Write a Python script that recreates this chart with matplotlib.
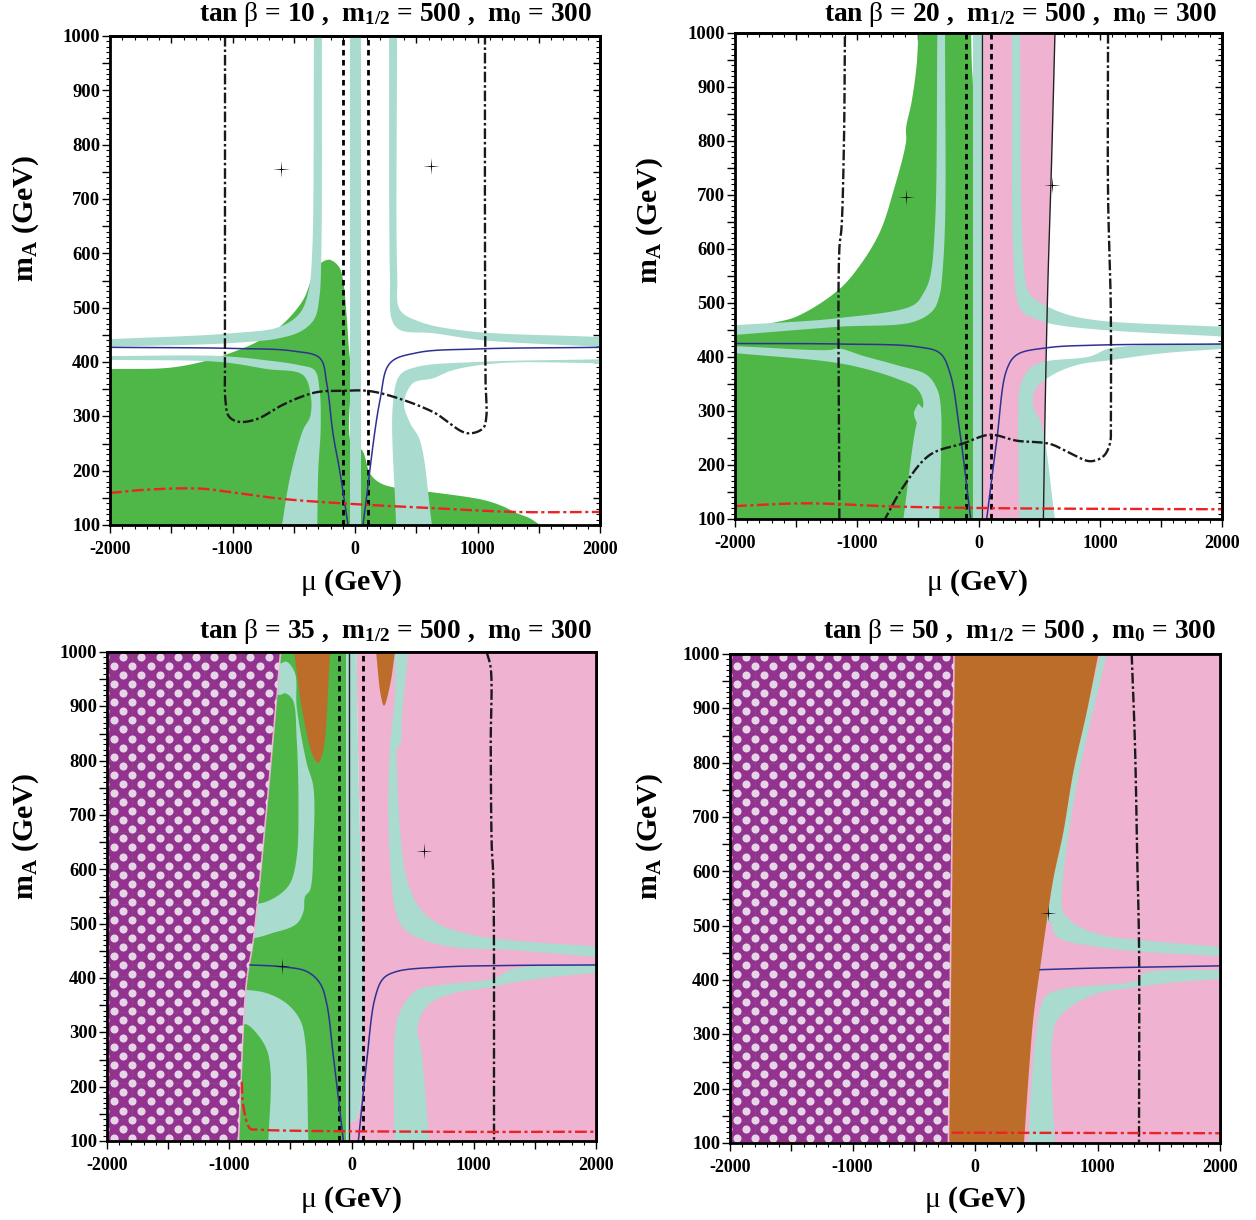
import numpy as np
import matplotlib
matplotlib.use("Agg")
import matplotlib.pyplot as plt
from matplotlib.patches import Polygon
from matplotlib.path import Path
from matplotlib.ticker import MultipleLocator

plt.rcParams.update({
    'font.family': 'Liberation Serif', 'font.weight': 'bold',
    'axes.unicode_minus': False, 'mathtext.fontset': 'custom',
    'mathtext.rm': 'Liberation Serif:bold', 'mathtext.bf': 'Liberation Serif:bold',
    'mathtext.it': 'Liberation Serif:bold', 'mathtext.sf': 'Liberation Serif:regular',
})

GREEN, AQUA, PINK, BROWN = '#4EB748', '#A9DBCF', '#F0B2D1', '#BD6D2A'
MAGENTA, DOT, BLUE, RED = '#93338F', '#E6D5E6', '#2E3192', '#ED2224'

TITLES = ['10', '20', '35', '50']
X_TICK_LABELS = ['-2000', '-1000', '0', '1000', '2000']
Y_TICK_VALUES = [100, 200, 300, 400, 500, 600, 700, 800, 900, 1000]

# ---------------- panel 1, tan beta = 10
P1_GREEN = [(-2000,100),(-2000,387),(-1535,389),(-1290,398),(-1061,413),(-800,437),(-612,465),(-424,514),
            (-326,569),(-260,585),(-204,588),(-130,575),(-98,551),(-70,490),(-49,422),(-30,380),(-30,250),
            (57,238),(122,195),(200,178),(340,168),(640,160),(1050,146),(1200,135),(1320,122),(1430,112),(1510,100)]
P1_AQUA_UL = [(-2000,442),(-1000,453),(-612,465),(-450,490),(-380,530),(-350,600),(-335,1000),(-270,1000),(-275,600),
              (-290,520),(-330,480),(-430,458),(-612,444),(-1000,435),(-2000,428)]
P1_AQUA_LL = [(-2000,411),(-1100,411),(-720,403),(-450,394),(-330,385),(-290,350),(-280,280),(-300,200),(-308,100),
              (-596,100),(-530,188),(-424,275),(-367,299),(-360,336),(-424,376),(-720,387),(-1100,400),(-2000,404)]
P1_AQUA_C = [(-41,100),(49,100),(49,1000),(-41,1000)]
P1_AQUA_UR = [(278,1000),(343,1000),(345,560),(367,496),(530,474),(914,457),(2000,446),(2000,428),(1045,440),
              (637,453),(367,459),(302,477),(285,560)]
P1_AQUA_LR = [(2000,405),(990,400),(506,391),(367,376),(310,325),(335,100),(628,100),(530,256),(449,288),(400,325),
              (473,361),(637,370),(800,385),(1184,398),(2000,398)]
P1_BLUE_L = [(-2000,427),(-1000,425),(-500,420),(-286,407),(-231,361),(-180,269),(-122,196),(-57,100)]
P1_BLUE_R = [(65,100),(204,330),(286,398),(506,417),(1000,424),(2000,427)]
P1_DD = [(-1061,1000),(-1061,600),(-1061,400),(-1058,330),(-1030,300),(-950,290),(-800,295),(-600,320),(-450,335),(-300,345),(-100,347),
         (100,347),(300,337),(637,308),(914,269),(1045,278),(1072,299),(1066,360),(1061,600),(1061,1000)]
P1_RED = [(-2000,159),(-1700,165),(-1265,167),(-1000,160),(-588,148),(-41,139),(637,131),(1320,124),(2000,124)]
P1_STARS = [(-604,755),(620,761)]
P1_DASH = [-100, 106]

# ---------------- panel 2, tan beta = 20
P2_PINK = [(40,100),(40,1000),(628,1000),(601,768),(568,521),(547,300),(533,100)]
P2_GREEN = [(-2000,100),(-2000,445),(-1712,462),(-1493,475),(-1151,524),(-973,570),(-809,632),(-699,707),(-595,799),(-595,824),
            (-549,873),(-508,941),(-494,1000),(-60,1000),(-56,950),(-42,880),(-42,100)]
P2_AQUA_UL = [(-1992,459),(-1151,472),(-535,496),(-453,518),(-400,546),(-357,645),(-338,1000),(-275,1000),(-275,645),
              (-302,540),(-316,518),(-371,487),(-535,465),(-1151,456),(-1992,441)]
P2_AQUA_LL = [(-1992,420),(-1220,413),(-1151,416),(-946,402),(-672,385),(-426,367),(-343,342),(-310,308),(-322,100),
              (-617,100),(-508,277),(-453,314),(-508,342),(-672,360),(-946,379),(-1220,391),(-1992,407)]
P2_AQUA_NOTCH = [(-494,314),(-530,296),(-494,276),(-450,300)]
P2_AQUA_C = [(-42,100),(40,100),(40,1000),(-42,1000)]
P2_AQUA_UR = [(273,1000),(341,1000),(368,583),(409,521),(478,505),(697,481),(971,468),(2000,456),(2000,438),(971,451),
              (587,462),(423,475),(368,481),(319,505),(286,583)]
P2_AQUA_LR = [(2000,425),(1080,416),(916,401),(533,391),(423,379),(341,345),(327,290),(336,100),(628,100),(519,274),
              (450,308),(464,339),(587,364),(806,385),(1080,394),(1518,407),(2000,415)]
P2_BLUE_L = [(-2000,425),(-1137,424),(-508,419),(-316,407),(-234,370),(-152,259),(-64,100)]
P2_BLUE_R = [(67,100),(150,246),(231,376),(314,404),(560,417),(971,422),(2000,424)]
P2_DD_L = [(-1143,100),(-1143,600),(-1125,640),(-1105,800),(-1097,1000)]
P2_DD_R = [(1064,1000),(1064,700),(1086,500),(1086,280),(1080,240),(1025,216),(916,207),(752,222),(587,239),(314,245),
           (95,256),(-124,240),(-398,219),(-617,160),(-768,100)]
P2_RED = [(-2000,124),(-1411,129),(-672,123),(149,120),(2000,118)]
P2_SOLID_L = [(30,100),(30,1000)]
P2_SOLID_R = [(533,100),(547,300),(568,521),(601,768),(628,1000)]
P2_STARS = [(-595,696),(604,718)]
P2_DASH = [-105, 103]

# ---------------- panel 3, tan beta = 35
P3_PINK = [(-6,100),(-6,135),(43,140),(43,1000),(2000,1000),(2000,100)]
P3_GREEN = [(-1000,100),(-1000,1000),(-44,1000),(-44,100)]
P3_AQUA_A = [(-700,979),(-584,979),(-530,982),(-462,961),(-448,899),(-366,795),(-312,752),(-312,642),(-339,562),
             (-380,550),(-393,522),(-448,500),(-612,485),(-900,479)]
P3_GREEN_IN = [(-900,537),(-753,537),(-612,550),(-503,574),(-448,623),(-434,715),(-448,838),(-481,912),(-543,924),
               (-584,921),(-900,921)]
P3_AQUA_B = [(-950,378),(-857,378),(-693,372),(-530,353),(-421,323),(-380,286),(-353,100),(-680,100),(-661,225),
             (-693,268),(-775,298),(-862,315),(-950,315)]
P3_AQUA_C = [(-44,100),(-6,100),(-6,135),(43,140),(43,1000),(-44,1000)]
P3_BROWN_1 = [(-470,1000),(-175,1000),(-230,820),(-271,796),(-312,807),(-394,881)]
P3_BROWN_2 = [(201,1000),(356,1000),(315,939),(266,901),(239,921)]
P3_AQUA_UR = [(465,1000),(411,878),(402,832),(375,823),(375,768),(397,676),(451,584),(560,528),(724,498),(997,479),
              (1270,470),(2000,458),(2000,439),(1270,452),(860,456),(588,470),(424,492),(356,528),(315,614),(301,706),
              (315,829),(356,921),(356,1000)]
P3_AQUA_LR = [(2000,425),(1324,417),(1160,399),(724,387),(533,378),(424,350),(364,314),(348,100),(637,100),(560,283),
              (539,298),(560,326),(642,353),(833,372),(1160,384),(1324,392),(1815,406),(2000,409)]
P3_MAGENTA = [(-2000,100),(-925,100),(-860,390),(-803,470),(-693,715),(-580,1000),(-2000,1000)]
P3_BLUE_L = [(-830,424),(-584,421),(-366,412),(-257,390),(-203,353),(-148,255),(-66,100)]
P3_BLUE_R = [(56,100),(124,246),(192,363),(260,399),(370,412),(724,420),(1270,423),(2000,424)]
P3_DD = [(1106,1000),(1139,970),(1139,829),(1147,645),(1160,584),(1166,100)]
P3_RED = [(-898,209),(-884,163),(-830,123),(-775,121),(725,117),(2000,117)]
P3_SOLID = [(-17,100),(-17,1000)]
P3_STARS = [(-571,423),(596,633)]
P3_DASH = [-102, 97]

# ---------------- panel 4, tan beta = 50
P4_PINK = [(-2000,100),(2000,100),(2000,1000),(-2000,1000)]
P4_MAGENTA = [(-2000,100),(-217,100),(-171,1000),(-2000,1000)]
P4_BROWN = [(-217,100),(-171,1000),(1007,1000),(912,893),(803,783),(721,672),(640,587),(585,507),(531,421),(476,329),
            (436,218),(400,100)]
P4_AQUA_U = [(1021,1000),(1075,1000),(830,758),(708,556),(721,525),(830,501),(1048,482),(1375,473),(2000,461),
             (2000,444),(1375,452),(994,461),(694,476),(640,488),(618,507),(585,507),(640,587),(721,672),(803,783),(912,893)]
P4_AQUA_L = [(2000,418),(1538,418),(1375,412),(1320,399),(994,390),(721,384),(585,372),(545,357),(504,310),(463,218),
             (436,100),(653,100),(626,218),(626,280),(662,323),(776,350),(994,375),(1320,387),(1592,395),(2000,402)]
P4_BLUE = [(531,419),(994,422),(2000,426)]
P4_DD = [(1279,1000),(1306,832),(1325,617),(1339,464),(1339,100)]
P4_RED = [(-190,119),(2000,118)]
P4_STARS = [(599,524)]

YS = 4.4  # pixel aspect of the data scales, used only for curve parametrisation
STAR_MARKER = Path.unit_regular_star(4, innerCircle=0.09)


def spline(pts, n=10):
    """Centripetal Catmull-Rom drawing path through the read points."""
    p = np.array(pts, float)
    if len(p) < 3:
        return p
    g = np.vstack([2*p[0]-p[1], p, 2*p[-1]-p[-2]])
    out = []
    for i in range(1, len(g)-2):
        P = g[i-1:i+3]
        q = P * [1, YS]
        t = [0.0]
        for k in range(3):
            t.append(t[-1] + max(np.hypot(*(q[k+1]-q[k])), 1e-6)**0.5)
        for u in np.linspace(t[1], t[2], n, endpoint=False):
            A1 = ((t[1]-u)*P[0]+(u-t[0])*P[1])/(t[1]-t[0])
            A2 = ((t[2]-u)*P[1]+(u-t[1])*P[2])/(t[2]-t[1])
            A3 = ((t[3]-u)*P[2]+(u-t[2])*P[3])/(t[3]-t[2])
            B1 = ((t[2]-u)*A1+(u-t[0])*A2)/(t[2]-t[0])
            B2 = ((t[3]-u)*A2+(u-t[1])*A3)/(t[3]-t[1])
            out.append(((t[2]-u)*B1+(u-t[1])*B2)/(t[2]-t[1]))
    out.append(p[-1])
    return np.array(out)


def outline(pts):
    """Closed outline: corners on the plot edge stay sharp, the runs between are smooth."""
    n = len(pts)
    on_edge = [abs(x) >= 1990 or y <= 100 or y >= 1000 for x, y in pts]
    if not any(on_edge):
        p = list(pts) + [pts[0]]
        return spline(p)
    s = on_edge.index(True)
    order = [pts[(s+i) % n] for i in range(n)] + [pts[s]]
    flags = [on_edge[(s+i) % n] for i in range(n)] + [True]
    res, run = [], [order[0]]
    for q, f in zip(order[1:], flags[1:]):
        run.append(q)
        if f:
            res.append(spline(run))
            run = [q]
    return np.vstack(res)


def px_axes(fig, left, right, top, bottom):
    W, H = 1256, 1220
    return fig.add_axes([left/W, 1-bottom/H, (right-left)/W, (bottom-top)/H])


def fill(ax, pts, color, z=1, **kw):
    p = Polygon(outline(pts), closed=True, fc=color, ec='none', zorder=z, **kw)
    ax.add_patch(p)
    return p


def line(ax, pts, smooth=True, **kw):
    a = spline(pts) if smooth else np.array(pts, float)
    ax.plot(a[:, 0], a[:, 1], **kw)


def dashes(ax, xs):
    for x in xs:
        ax.plot([x, x], [100, 1000], color='k', lw=2.0, ls=(0, (2.0, 1.6)), zorder=8)


def dd(ax, pts):
    line(ax, pts, color='#1a1a1a', lw=1.7, ls=(0, (4.5, 1.2, 1.1, 1.2)), zorder=9)


def red(ax, pts):
    line(ax, pts, color=RED, lw=1.7, ls=(0, (5, 1.5, 1.3, 1.5)), zorder=9)


def blue(ax, pts):
    line(ax, pts, color=BLUE, lw=1.1, zorder=9)


def stars(ax, pts):
    a = np.array(pts)
    ax.plot(a[:, 0], a[:, 1], ls='none', marker=STAR_MARKER, ms=12, mew=0, color='#111111', zorder=10)


def dotted(ax, patch, x0, y0):
    dx, dy = 148.6, 16.7
    xs, ys = [], []
    for i in range(-70, 70):
        for j in range(-20, 20):
            x = x0 + (j + (0.5 if i % 2 else 0)) * dx
            y = y0 + i * dy
            if -2100 < x < 1000 and 80 < y < 1020:
                xs.append(x); ys.append(y)
    sc = ax.scatter(xs, ys, s=34, color=DOT, linewidths=0, zorder=4)
    sc.set_clip_path(patch)
    for gx in np.arange(-1795, 700, 295):
        l, = ax.plot([gx, gx], [100, 1000], color='#7a5a85', lw=0.6, alpha=0.6, zorder=3.5)
        l.set_clip_path(patch)
    for gy in np.arange(140, 1000, 66):
        l, = ax.plot([-2000, 1000], [gy, gy], color='#7a5a85', lw=0.6, alpha=0.6, zorder=3.5)
        l.set_clip_path(patch)


def decorate(ax, fig, tanb, title_px, mu_center_py, ma_center, W=1256, H=1220):
    ax.set_xlim(-2000, 2000)
    ax.set_ylim(100, 1000)
    for s in ax.spines.values():
        s.set_linewidth(2.0)
        s.set_zorder(20)
    ax.xaxis.set_major_locator(MultipleLocator(500))
    ax.xaxis.set_minor_locator(MultipleLocator(100))
    ax.yaxis.set_major_locator(MultipleLocator(50))
    ax.yaxis.set_minor_locator(MultipleLocator(10))
    ax.tick_params(which='major', length=5.5, width=1.0, top=False, right=False, direction='out',
                   labelbottom=False, labelleft=False)
    ax.tick_params(which='minor', length=2.6, width=0.8, top=False, right=False, direction='out')
    sec_x = ax.secondary_xaxis('top')
    sec_x.xaxis.set_major_locator(MultipleLocator(500))
    sec_x.xaxis.set_minor_locator(MultipleLocator(100))
    sec_x.tick_params(which='major', direction='in', length=5, width=1.0, labeltop=False)
    sec_x.tick_params(which='minor', direction='in', length=2.6, width=0.8)
    sec_x.spines['top'].set_linewidth(2.0)
    sec_y = ax.secondary_yaxis('right')
    sec_y.yaxis.set_major_locator(MultipleLocator(50))
    sec_y.yaxis.set_minor_locator(MultipleLocator(10))
    sec_y.tick_params(which='major', direction='in', length=5, width=1.0, labelright=False)
    sec_y.tick_params(which='minor', direction='in', length=2.6, width=0.8)
    sec_y.spines['right'].set_linewidth(2.0)
    for v, lab in zip([-2000, -1000, 0, 1000, 2000], X_TICK_LABELS):
        ax.annotate(lab, (v, 100), xytext=(0, -11.5), textcoords='offset points', ha='center', va='top',
                    fontsize=13, fontweight='bold', annotation_clip=False)
    for v in Y_TICK_VALUES:
        ax.annotate(str(v), (-2000, v), xytext=(-7, -1.2), textcoords='offset points', ha='right', va='center',
                    fontsize=13.4, fontweight='bold', annotation_clip=False)
    title = r'tan $\mathsf{\beta}$ = ' + tanb + r' ,  m$_{1/2}$ = 500 ,  m$_0$ = 300'
    fig.text(title_px[0]/W, 1-title_px[1]/H, title, ha='right', va='baseline', fontsize=19.7, fontweight='bold')
    fig.text(mu_center_py[0]/W, 1-mu_center_py[1]/H, r'$\mathsf{\mu}$ (GeV)', ha='center', va='baseline',
             fontsize=21.5, fontweight='bold')
    fig.text(ma_center[0]/W, 1-ma_center[1]/H, r'm$_{\mathrm{A}}$ (GeV)', ha='center', va='center', rotation=90,
             fontsize=21.5, fontweight='bold')


fig = plt.figure(figsize=(12.56, 12.20), dpi=100)

# panel 1
ax = px_axes(fig, 110, 600, 36, 525)
fill(ax, P1_GREEN, GREEN)
for a in (P1_AQUA_UL, P1_AQUA_LL, P1_AQUA_C, P1_AQUA_UR, P1_AQUA_LR):
    fill(ax, a, AQUA, 2)
blue(ax, P1_BLUE_L); blue(ax, P1_BLUE_R); dashes(ax, P1_DASH); dd(ax, P1_DD); red(ax, P1_RED); stars(ax, P1_STARS)
decorate(ax, fig, TITLES[0], (592, 21), (351, 590), (26, 218))

# panel 2
ax = px_axes(fig, 735, 1222, 33, 519)
fill(ax, P2_PINK, PINK)
fill(ax, P2_GREEN, GREEN)
for a in (P2_AQUA_UL, P2_AQUA_LL, P2_AQUA_NOTCH, P2_AQUA_C, P2_AQUA_UR, P2_AQUA_LR):
    fill(ax, a, AQUA, 2)
blue(ax, P2_BLUE_L); blue(ax, P2_BLUE_R); dashes(ax, P2_DASH); dd(ax, P2_DD_L); dd(ax, P2_DD_R); red(ax, P2_RED)
line(ax, P2_SOLID_L, color='#222222', lw=1.0, zorder=7); line(ax, P2_SOLID_R, color='#222222', lw=1.0, zorder=7)
stars(ax, P2_STARS)
decorate(ax, fig, TITLES[1], (1217, 21), (977, 590), (650, 220))

# panel 3
ax = px_axes(fig, 107, 596, 652, 1141)
fill(ax, P3_PINK, PINK)
fill(ax, P3_GREEN, GREEN)
fill(ax, P3_AQUA_A, AQUA, 1.5)
fill(ax, P3_GREEN_IN, GREEN, 1.6)
for a in (P3_AQUA_B, P3_AQUA_C, P3_AQUA_UR, P3_AQUA_LR):
    fill(ax, a, AQUA, 2)
fill(ax, P3_BROWN_1, BROWN, 2.5); fill(ax, P3_BROWN_2, BROWN, 2.5)
m = Polygon(outline(P3_MAGENTA), closed=True, fc=MAGENTA, ec=PINK, lw=1.2, zorder=3)
ax.add_patch(m)
dotted(ax, m, -1867, 991)
blue(ax, P3_BLUE_L); blue(ax, P3_BLUE_R); dashes(ax, P3_DASH); dd(ax, P3_DD); red(ax, P3_RED)
line(ax, P3_SOLID, color='#222222', lw=1.0, zorder=7)
stars(ax, P3_STARS)
decorate(ax, fig, TITLES[2], (592, 638), (351, 1207), (26, 836))

# panel 4
ax = px_axes(fig, 730, 1220, 654, 1143)
fill(ax, P4_PINK, PINK)
fill(ax, P4_AQUA_U, AQUA, 2); fill(ax, P4_AQUA_L, AQUA, 2)
fill(ax, P4_BROWN, BROWN, 2.5)
m = Polygon(outline(P4_MAGENTA), closed=True, fc=MAGENTA, ec=PINK, lw=1.2, zorder=3)
ax.add_patch(m)
dotted(ax, m, -308, 978)
blue(ax, P4_BLUE); dd(ax, P4_DD); red(ax, P4_RED); stars(ax, P4_STARS)
decorate(ax, fig, TITLES[3], (1216, 638), (975, 1207), (650, 836))

fig.savefig('out.png', dpi=100)
